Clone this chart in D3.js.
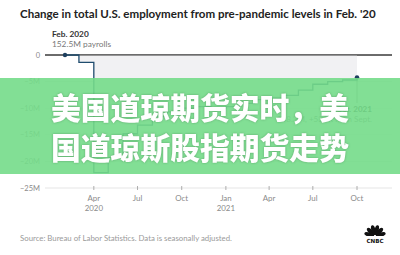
<!DOCTYPE html>
<html>
<head>
<meta charset="utf-8">
<script src="https://cdn.jsdelivr.net/npm/d3@7/dist/d3.min.js"></script>
<style>
  html, body { margin: 0; padding: 0; background: #fff; }
  svg { display: block; }
</style>
</head>
<body>
<svg id="chart" width="400" height="255"></svg>
<script>
// Monthly change in total nonfarm payrolls vs. Feb. 2020 (millions)
const months = [
  "2020-02", "2020-03", "2020-04", "2020-05", "2020-06", "2020-07", "2020-08",
  "2020-09", "2020-10", "2020-11", "2020-12", "2021-01", "2021-02", "2021-03",
  "2021-04", "2021-05", "2021-06", "2021-07", "2021-08", "2021-09", "2021-10"
];
const changeM = [
  0, -1.4, -22.1, -19.3, -14.8, -13.2, -11.6,
  -10.7, -10.0, -9.7, -10.0, -9.7, -9.1, -8.4,
  -8.1, -7.6, -6.6, -5.5, -5.0, -4.7, -4.2
];
const yTicks = [0, -5, -10, -15, -20, -25];
const yTickLabels = ["0", "\u22125M", "\u221210M", "\u221215M", "\u221220M", "\u221225M"];
const xTicks = ["2020-04", "2020-07", "2020-10", "2021-01", "2021-04", "2021-07", "2021-10"];
const xTickLabels = [["Apr", "2020"], ["Jul"], ["Oct"], ["Jan", "2021"], ["Apr"], ["Jul"], ["Oct"]];

const titleText = "Change in total U.S. employment from pre-pandemic levels in Feb. '20";
const startNote = ["Feb. 2020", "152.5M payrolls"];
const endNote = ["Oct. 2021", "148.3M, +531K from Sept."];
const sourceText = "Source: Bureau of Labor Statistics. Data is seasonally adjusted.";
const bannerLines = ["美国道琼期货实时，美", "国道琼斯股指期货走势"];

const parseMonth = d3.utcParse("%Y-%m");
const data = months.map((m, i) => ({ date: parseMonth(m), v: changeM[i] }));

const svg = d3.select("#chart");
const font = "Lato, 'Open Sans', sans-serif";

const x = d3.scaleUtc()
  .domain([parseMonth(months[0]), parseMonth(months[months.length - 1])])
  .range([65, 357]);
const y = d3.scaleLinear().domain([0, -25]).range([55, 188]);
const gridX0 = 45, gridX1 = 392;

// title
svg.append("text")
  .attr("x", 20).attr("y", 18)
  .attr("font-family", font).attr("font-weight", 700).attr("font-size", 11.55)
  .attr("fill", "#222")
  .text(titleText);

// gridlines and y labels
const yg = svg.append("g");
yTicks.forEach((t, i) => {
  yg.append("line")
    .attr("x1", gridX0).attr("x2", gridX1)
    .attr("y1", y(t)).attr("y2", y(t))
    .attr("stroke", t === 0 ? "#3a3a3a" : "#dedede")
    .attr("stroke-width", t === 0 ? 1 : 0.8);
  yg.append("text")
    .attr("x", 40).attr("y", y(t) + 2.6)
    .attr("text-anchor", "end")
    .attr("font-family", font).attr("font-size", 7.5)
    .attr("fill", "#8a8a8a")
    .text(yTickLabels[i]);
});

// shaded gap between payrolls and Feb. 2020 level
const area = d3.area()
  .curve(d3.curveStepAfter)
  .x(d => x(d.date))
  .y0(y(0))
  .y1(d => y(d.v));
svg.append("path")
  .datum(data)
  .attr("d", area)
  .attr("fill", "#f1f1f3");

// redraw zero line on top of the shading
svg.append("line")
  .attr("x1", gridX0).attr("x2", gridX1)
  .attr("y1", y(0)).attr("y2", y(0))
  .attr("stroke", "#3a3a3a").attr("stroke-width", 1);

// x axis ticks and labels
const xg = svg.append("g");
xTicks.forEach((m, i) => {
  const xp = x(parseMonth(m));
  xg.append("line")
    .attr("x1", xp).attr("x2", xp)
    .attr("y1", y(-25) - 2).attr("y2", y(-25) + 2)
    .attr("stroke", "#9a9a9a").attr("stroke-width", 0.8);
  xTickLabels[i].forEach((s, j) => {
    xg.append("text")
      .attr("x", xp).attr("y", 201 + j * 10)
      .attr("text-anchor", "middle")
      .attr("font-family", font).attr("font-size", 7.9)
      .attr("fill", "#8a8a8a")
      .text(s);
  });
});

// leader line for latest value
const last = data[data.length - 1];
svg.append("line")
  .attr("x1", x(last.date)).attr("x2", x(last.date))
  .attr("y1", y(last.v)).attr("y2", 103)
  .attr("stroke", "#666").attr("stroke-width", 0.7);

// payrolls step line
const line = d3.line()
  .curve(d3.curveStepAfter)
  .x(d => x(d.date))
  .y(d => y(d.v));
svg.append("path")
  .datum(data)
  .attr("d", line)
  .attr("fill", "none")
  .attr("stroke", "#1f4c6e")
  .attr("stroke-width", 1.3);

// endpoints
[data[0], last].forEach(d => {
  svg.append("circle")
    .attr("cx", x(d.date)).attr("cy", y(d.v))
    .attr("r", 2.2).attr("fill", "#1d3f5e");
});

// annotations
svg.append("text")
  .attr("x", 52).attr("y", 37)
  .attr("font-family", font).attr("font-weight", 700).attr("font-size", 8.3)
  .attr("fill", "#333").text(startNote[0]);
svg.append("text")
  .attr("x", 52).attr("y", 47)
  .attr("font-family", font).attr("font-size", 8.3)
  .attr("fill", "#777").text(startNote[1]);
svg.append("text")
  .attr("x", 372).attr("y", 112).attr("text-anchor", "end")
  .attr("font-family", font).attr("font-weight", 700).attr("font-size", 8.1)
  .attr("fill", "#333").text(endNote[0]);
svg.append("text")
  .attr("x", 372).attr("y", 122).attr("text-anchor", "end")
  .attr("font-family", font).attr("font-size", 8.1)
  .attr("fill", "#777").text(endNote[1]);

// source line
svg.append("text")
  .attr("x", 20).attr("y", 241)
  .attr("font-family", font).attr("font-size", 7.8)
  .attr("fill", "#9a9a9a")
  .text(sourceText);

// network logo: peacock feathers with wordmark
const logo = svg.append("g").attr("transform", "translate(375,236)");
const featherAngles = [-75, -45, -15, 15, 45, 75];
featherAngles.forEach(a => {
  logo.append("ellipse")
    .attr("cx", 0).attr("cy", -6)
    .attr("rx", 2.1).attr("ry", 5)
    .attr("transform", `rotate(${a})`)
    .attr("fill", "#111");
});
logo.append("rect").attr("x", -9).attr("y", 0).attr("width", 18).attr("height", 1).attr("fill", "#fff");
logo.append("text")
  .attr("x", 0).attr("y", 6.5).attr("text-anchor", "middle")
  .attr("font-family", "'DejaVu Sans', sans-serif").attr("font-weight", 700)
  .attr("font-size", 5.6).attr("fill", "#111")
  .text("CNBC");

// headline banner across the chart
svg.append("rect")
  .attr("x", 0).attr("y", 78).attr("width", 400).attr("height", 96)
  .attr("fill", "rgb(116, 220, 138)").attr("fill-opacity", 0.9);
bannerLines.forEach((s, i) => {
  svg.append("text")
    .attr("x", 51).attr("y", 119 + i * 40)
    .attr("font-family", "'Noto Sans CJK SC', sans-serif")
    .attr("font-weight", 900).attr("font-size", 29.8)
    .attr("fill", "#fff")
    .style("filter", "drop-shadow(0px 0px 1px rgba(60,120,70,0.5))")
    .text(s);
});
</script>
</body>
</html>
